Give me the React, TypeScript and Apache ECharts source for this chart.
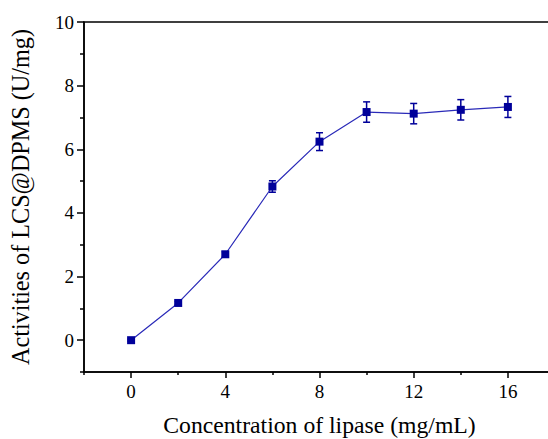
import React, { useEffect, useRef } from "react";
import * as echarts from "echarts";

const concentrations = [0, 2, 4, 6, 8, 10, 12, 14, 16];
const activities = [0, 1.17, 2.7, 4.83, 6.24, 7.17, 7.12, 7.24, 7.33];
const errors = [0.03, 0.05, 0.08, 0.18, 0.28, 0.32, 0.32, 0.32, 0.33];
const xMajorTicks = [0, 4, 8, 12, 16];
const xMinorTicks = [-2, 2, 6, 10, 14];
const yMajorTicks = [0, 2, 4, 6, 8, 10];
const yMinorTicks = [-1, 1, 3, 5, 7, 9];

const FONT = "Liberation Serif";
const NAVY = "#00009a";

export default function App() {
  const ref = useRef<HTMLDivElement>(null);
  useEffect(() => {
    if (!ref.current) return;
    const chart = echarts.init(ref.current, null, { renderer: "svg" });
    const pts = concentrations.map((c, i) => [c, activities[i]]);
    const errData = concentrations.map((c, i) => [c, activities[i] - errors[i], activities[i] + errors[i]]);
    const axisLine = { show: true, onZero: false, lineStyle: { color: "#000", width: 1.5 } };
    const hiddenLine = { show: false, onZero: false };
    chart.setOption({
      animation: false,
      backgroundColor: "#fff",
      textStyle: { fontFamily: FONT, fontSize: 19 },
      grid: {
        left: 84,
        top: 22,
        bottom: 67,
        right: -7,
        containLabel: false,
        outerBoundsMode: "none",
        show: true,
        borderColor: "#000",
        borderWidth: 1.5,
      },
      xAxis: [
        {
          type: "value",
          min: -2,
          max: 18,
          interval: 2,
          position: "bottom",
          axisLine,
          splitLine: { show: false },
          axisTick: { show: true, inside: false, length: 6, customValues: xMajorTicks, lineStyle: { color: "#000", width: 1.5 } },
          axisLabel: {
            fontFamily: FONT,
            fontSize: 19,
            color: "#000",
            margin: 10,
            hideOverlap: false,
            formatter: (v: number) => (xMajorTicks.includes(v) ? String(v) : ""),
          },
          name: "Concentration of lipase (mg/mL)",
          nameLocation: "middle",
          nameGap: 41,
          nameTextStyle: { fontFamily: FONT, fontSize: 23.7, color: "#000" },
        },
        {
          type: "value",
          min: -2,
          max: 18,
          position: "bottom",
          axisLine: hiddenLine,
          splitLine: { show: false },
          axisTick: { show: true, inside: false, length: 3, customValues: xMinorTicks, lineStyle: { color: "#000", width: 1.5 } },
          axisLabel: { show: false },
        },
      ],
      yAxis: [
        {
          type: "value",
          min: -1,
          max: 10,
          interval: 1,
          position: "left",
          axisLine,
          splitLine: { show: false },
          axisTick: { show: true, inside: false, length: 7, customValues: yMajorTicks, lineStyle: { color: "#000", width: 1.5 } },
          axisLabel: {
            fontFamily: FONT,
            fontSize: 19,
            color: "#000",
            margin: 10,
            formatter: (v: number) => (yMajorTicks.includes(v) ? String(v) : ""),
          },
          name: "Activities of LCS@DPMS (U/mg)",
          nameLocation: "middle",
          nameGap: 52,
          nameTextStyle: { fontFamily: FONT, fontSize: 24.2, color: "#000" },
        },
        {
          type: "value",
          min: -1,
          max: 10,
          position: "left",
          axisLine: hiddenLine,
          splitLine: { show: false },
          axisTick: { show: true, inside: false, length: 4, customValues: yMinorTicks, lineStyle: { color: "#000", width: 1.5 } },
          axisLabel: { show: false },
        },
      ],
      series: [
        {
          type: "line",
          data: pts,
          xAxisIndex: 0,
          yAxisIndex: 0,
          symbol: "rect",
          symbolSize: 8,
          lineStyle: { color: "#2a2ab8", width: 1.2 },
          itemStyle: { color: NAVY },
          z: 3,
        },
        {
          type: "custom",
          xAxisIndex: 0,
          yAxisIndex: 0,
          data: errData,
          z: 4,
          renderItem: (params: any, api: any) => {
            const x = api.value(0);
            const lo = api.coord([x, api.value(1)]);
            const hi = api.coord([x, api.value(2)]);
            const cap = 3.5;
            const style = { stroke: NAVY, lineWidth: 1.5 };
            return {
              type: "group",
              children: [
                { type: "line", shape: { x1: lo[0], y1: lo[1], x2: hi[0], y2: hi[1] }, style },
                { type: "line", shape: { x1: lo[0] - cap, y1: lo[1], x2: lo[0] + cap, y2: lo[1] }, style },
                { type: "line", shape: { x1: hi[0] - cap, y1: hi[1], x2: hi[0] + cap, y2: hi[1] }, style },
              ],
            };
          },
        },
      ],
    });
    return () => chart.dispose();
  }, []);
  return <div ref={ref} style={{ position: "fixed", left: 0, top: 0, width: 548, height: 439 }} />;
}
